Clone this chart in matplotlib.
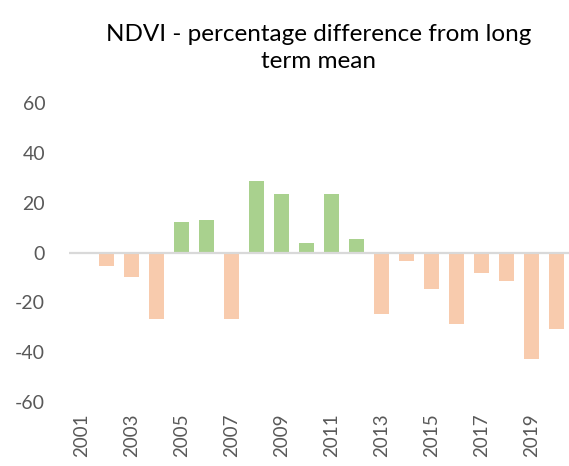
import numpy as np
from matplotlib import pyplot as plt

plt.rcParams['font.family'] = ['Lato', 'DejaVu Sans']

# ============================================================
# DATA
# ============================================================
years = list(range(2001, 2021))
ndvi_diff = [0, -5.2, -9.8, -26.6, 12.3, 12.9, -26.8, 28.6, 23.3, 3.9,
             23.4, 5.3, -24.5, -3.5, -14.8, -28.8, -8.2, -11.6, -42.5, -30.8]
y_ticks = [-60, -40, -20, 0, 20, 40, 60]

green = '#a9d18e'
orange = '#f8cbad'
text_grey = '#595959'

# ============================================================
# PLOT
# ============================================================
fig = plt.figure(figsize=(5.69, 4.66), dpi=100)
ax = fig.add_axes([0.121, 0.137, 0.879, 0.642])

x = np.arange(len(years))
colors = [green if v > 0 else orange for v in ndvi_diff]
ax.bar(x, ndvi_diff, width=0.6, color=colors, zorder=2)

ax.axhline(0, color='#d9d9d9', linewidth=1.6, zorder=3)

ax.set_xlim(-0.5, len(years) - 0.5)
ax.set_ylim(-60, 60)
ax.set_yticks(y_ticks)
ax.set_yticklabels([str(t) for t in y_ticks], fontsize=14, color=text_grey)

ax.set_xticks(x[::2])
ax.set_xticklabels([str(y) for y in years[::2]], rotation=90,
                   fontsize=13.5, color=text_grey)

ax.tick_params(axis='y', length=0, pad=17)
ax.tick_params(axis='x', length=0, pad=8)
for s in ax.spines.values():
    s.set_visible(False)

ax.set_title("NDVI - percentage difference from long\nterm mean",
             fontsize=17.5, color='black', pad=25, linespacing=1.35)

fig.savefig('out.png', dpi=100)
